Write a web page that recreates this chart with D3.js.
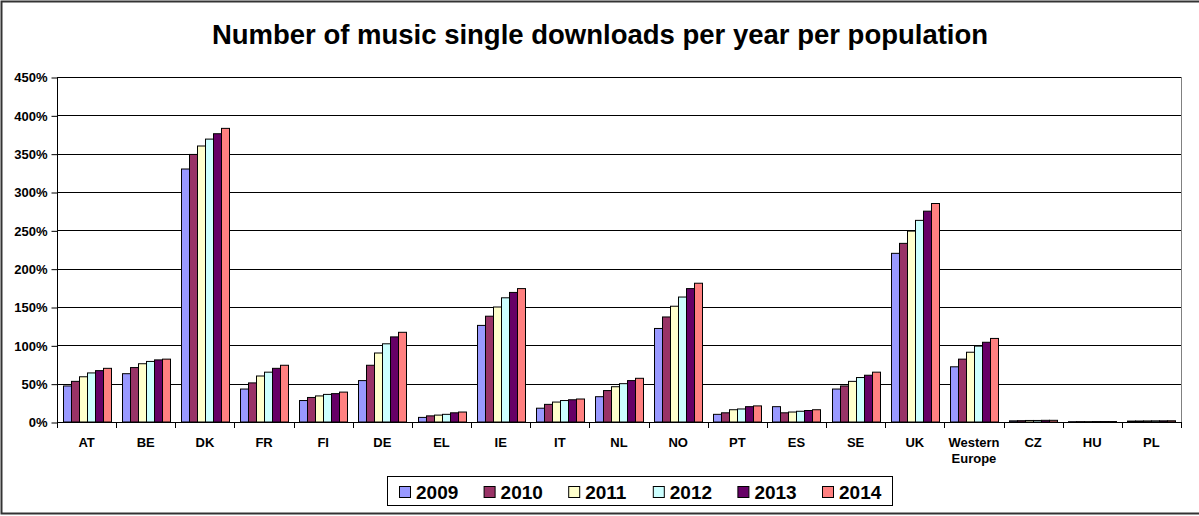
<!DOCTYPE html>
<html>
<head>
<meta charset="utf-8">
<script src="https://cdn.jsdelivr.net/npm/d3@7"></script>
<style>
  body { margin: 0; background: #fff; }
  text { font-family: Arial, "Liberation Sans", sans-serif; font-weight: bold; fill: #000; }
</style>
</head>
<body>
<div id="chart"></div>
<script>
// categories and yearly values (percent of population)
var categories = ["AT", "BE", "DK", "FR", "FI", "DE", "EL", "IE", "IT", "NL", "NO", "PT", "ES", "SE", "UK", "Western Europe", "CZ", "HU", "PL"];
var years = ["2009", "2010", "2011", "2012", "2013", "2014"];
var v2009 = [47, 63, 330, 43, 28, 54, 6, 126, 18, 33, 122, 10, 20, 43, 220, 72, 1.5, 0.4, 1.2];
var v2010 = [53, 71, 349, 51, 32, 74, 8, 138, 23, 41, 137, 12, 12, 47, 233, 82, 1.7, 0.5, 1.3];
var v2011 = [59, 76, 360, 60, 34, 90, 9, 150, 26, 46, 151, 16, 13, 53, 249, 91, 2.0, 0.5, 1.4];
var v2012 = [64, 79, 369, 65, 36, 102, 10, 162, 28, 50, 163, 17, 14, 58, 263, 99, 2.0, 0.6, 1.5];
var v2013 = [67, 81, 376, 70, 37, 111, 12, 169, 29, 54, 174, 20, 15, 61, 275, 104, 2.2, 0.6, 1.5];
var v2014 = [70, 82, 383, 74, 39, 117, 13, 174, 30, 57, 181, 21, 16, 65, 285, 109, 2.2, 0.6, 1.6];
var yTicks = [0, 50, 100, 150, 200, 250, 300, 350, 400, 450];

var series = [v2009, v2010, v2011, v2012, v2013, v2014];
var colors = ["#9999FF", "#993366", "#FFFFCC", "#CCFFFF", "#660066", "#FF8080"];

var width = 1199, height = 516;
var plotLeft = 57, plotRight = 1181, plotTop = 77, plotBottom = 422;

var svg = d3.select("#chart").append("svg")
    .attr("width", width)
    .attr("height", height);

// outer chart border
svg.append("rect")
    .attr("x", 1.5).attr("y", 1.5)
    .attr("width", width + 5).attr("height", 512)
    .attr("fill", "#fff")
    .attr("stroke", "#333")
    .attr("stroke-width", 2);

svg.append("text")
    .attr("x", 600).attr("y", 44)
    .attr("text-anchor", "middle")
    .style("font-size", "27.5px")
    .text("Number of music single downloads per year per population");

var y = d3.scaleLinear().domain([0, 450]).range([plotBottom, plotTop]);
var x0 = d3.scaleBand().domain(categories).range([plotLeft, plotRight]).paddingInner(0).paddingOuter(0);
var x1 = d3.scaleBand().domain(years).range([0, x0.bandwidth()]).paddingInner(0).paddingOuter(0.7);

// gridlines
svg.append("g")
  .selectAll("line")
  .data(yTicks.slice(1))
  .enter().append("line")
    .attr("x1", plotLeft).attr("x2", plotRight)
    .attr("y1", function(d) { return Math.round(y(d)) + 0.5; })
    .attr("y2", function(d) { return Math.round(y(d)) + 0.5; })
    .attr("stroke", "#000")
    .attr("stroke-width", 1);

// right plot border
svg.append("line")
    .attr("x1", plotRight + 0.5).attr("x2", plotRight + 0.5)
    .attr("y1", plotTop).attr("y2", plotBottom)
    .attr("stroke", "#808080");

// bars
var groups = svg.append("g")
  .selectAll("g")
  .data(series)
  .enter().append("g")
    .attr("fill", function(d, i) { return colors[i]; });

groups.selectAll("rect")
  .data(function(d, i) { return d.map(function(v, j) { return { year: years[i], cat: categories[j], value: v }; }); })
  .enter().append("rect")
    .attr("x", function(d) { return Math.round(x0(d.cat) + x1(d.year)) + 0.5; })
    .attr("y", function(d) { return y(d.value); })
    .attr("width", Math.round(x1.bandwidth()))
    .attr("height", function(d) { return plotBottom - y(d.value); })
    .attr("stroke", "#000")
    .attr("stroke-width", 1);

// y axis
var yAxis = svg.append("g")
    .attr("transform", "translate(" + (plotLeft + 0.5) + ",0.5)")
    .call(d3.axisLeft(y).tickValues(yTicks).tickSize(6).tickPadding(4)
      .tickFormat(function(d) { return d + "%"; }));
yAxis.selectAll("text").style("font-size", "13px");
yAxis.select(".domain").attr("d", "M0," + plotTop + "V" + plotBottom);

// x axis with ticks on category boundaries
var xg = svg.append("g");
xg.append("line")
    .attr("x1", plotLeft).attr("x2", plotRight + 1)
    .attr("y1", plotBottom + 0.5).attr("y2", plotBottom + 0.5)
    .attr("stroke", "#000");
xg.selectAll(".tick")
  .data(categories.concat(["end"]))
  .enter().append("line")
    .attr("x1", function(d, i) { return Math.round(plotLeft + i * x0.step()) + 0.5; })
    .attr("x2", function(d, i) { return Math.round(plotLeft + i * x0.step()) + 0.5; })
    .attr("y1", plotBottom).attr("y2", plotBottom + 6)
    .attr("stroke", "#000");

xg.selectAll(".lab")
  .data(categories)
  .enter().append("text")
    .attr("x", function(d) { return x0(d) + x0.bandwidth() / 2; })
    .attr("y", 447)
    .attr("text-anchor", "middle")
    .style("font-size", "13px")
    .each(function(d) {
      var parts = d.split(" ");
      var t = d3.select(this);
      parts.forEach(function(p, k) {
        t.append("tspan")
          .attr("x", x0(d) + x0.bandwidth() / 2)
          .attr("dy", k === 0 ? 0 : 16)
          .text(p);
      });
    });

// legend
var legend = svg.append("g");
legend.append("rect")
    .attr("x", 387.5).attr("y", 476.5)
    .attr("width", 505).attr("height", 29)
    .attr("fill", "#fff")
    .attr("stroke", "#000");

var item = legend.selectAll(".item")
  .data(years)
  .enter().append("g")
    .attr("transform", function(d, i) { return "translate(" + (399 + i * 84.6) + ",0)"; });

item.append("rect")
    .attr("x", 0.5).attr("y", 486.5)
    .attr("width", 11).attr("height", 11)
    .attr("fill", function(d, i) { return colors[i]; })
    .attr("stroke", "#000");

item.append("text")
    .attr("x", 17).attr("y", 499)
    .style("font-size", "19px")
    .text(function(d) { return d; });
</script>
</body>
</html>
